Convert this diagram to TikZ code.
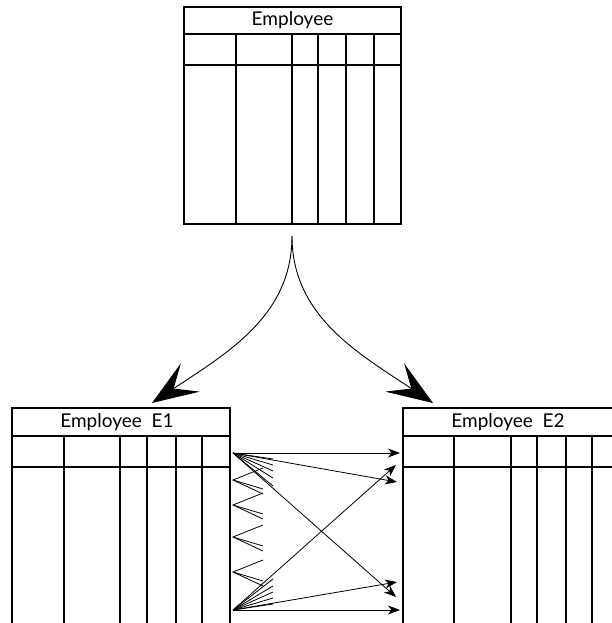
\documentclass[tikz,border=0pt]{standalone}
\usepackage{fontspec}
\setmainfont{Lato}
\usetikzlibrary{arrows.meta}
\tikzset{
  tbl/.style={line width=1.1pt},
  flow/.style={line width=0.8pt,-{Stealth[length=12pt,width=9pt,inset=3.5pt]}},
  split/.style={line width=0.9pt,-{Stealth[length=46pt,width=34pt,inset=20pt]}},
  fan/.style={line width=0.8pt},
  title/.style={font=\fontsize{19}{19}\selectfont,inner sep=0pt}
}
\begin{document}
\begin{tikzpicture}[x=1pt,y=-1pt]
				\useasboundingbox (0,0) rectangle (612,623);
				% source table
				\draw [tbl] (184,7) rectangle (401,224);
				\draw [tbl] (184,34) -- (401,34);
				\draw [tbl] (184,65) -- (401,65);
				\foreach \x in {236,292,318,346,374}
					\draw [tbl] (\x,34) -- (\x,224);
				\node [title] (emp) at (292.5,20.5) {Employee};

				% fragment E1
				\draw [tbl] (12,623) -- (12,408) -- (230,408) -- (230,623);
				\draw [tbl] (12,436) -- (230,436);
				\draw [tbl] (12,467) -- (230,467);
				\foreach \x in {64,120,147,176,202}
					\draw [tbl] (\x,436) -- (\x,623);
				\node [title] (eone) at (117,422) {Employee\ \ E1};

				% fragment E2
				\draw [tbl] (403,623) -- (403,408) -- (621,408) -- (621,623);
				\draw [tbl] (403,436) -- (621,436);
				\draw [tbl] (403,467) -- (621,467);
				\foreach \x in {454,511,537,566,592}
					\draw [tbl] (\x,436) -- (\x,623);
				\node [title] (etwo) at (508,422) {Employee\ \ E2};

				% split
				\coordinate (fork) at (292,236);
				\coordinate (tipL) at (152,403);
				\coordinate (tipR) at (433,403);
				\draw [split] (fork) .. controls (292,316) and (227,353) .. (tipL);
				\draw [split] (fork) .. controls (292,316) and (358,353) .. (tipR);

				% tuples
				\coordinate (s1) at (233,453);
				\coordinate (s2) at (233,610);
				\coordinate (t1) at (400,453);
				\coordinate (t2) at (397,482);
				\coordinate (t3) at (396,597);
				\coordinate (t4) at (400,610);
				\coordinate (t5) at (397,582);
				\coordinate (t6) at (396,465);
				\draw [flow] (s1) -- (t1);
				\draw [flow] (s1) -- (t2);
				\draw [flow] (s1) -- (t3);
				\draw [flow] (s2) -- (t4);
				\draw [flow] (s2) -- (t5);
				\draw [flow] (s2) -- (t6);

				\foreach \y in {459,465,471,478,486}
					\draw [fan] (s1) -- (273,\y);
				\foreach \y in {604,598,592,586,579}
					\draw [fan] (s2) -- (273,\y);
				\foreach \v in {480,505,537,572}
				{
					\draw [fan] (263,\v-12) -- (233,\v) -- (263,\v+9);
					\draw [fan] (233,\v) -- (263,\v+14);
				}
			\end{tikzpicture}
\end{document}
